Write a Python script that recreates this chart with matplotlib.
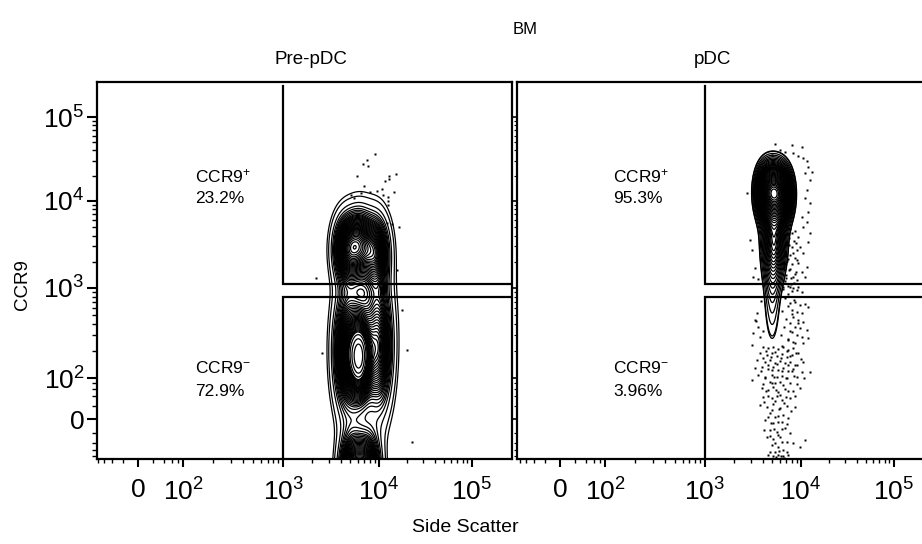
import numpy as np
import matplotlib
matplotlib.use("Agg")
import matplotlib.pyplot as plt

plt.rcParams['font.family'] = ['Liberation Sans', 'DejaVu Sans']
plt.rcParams['mathtext.fontset'] = 'custom'
plt.rcParams['mathtext.rm'] = 'Liberation Sans'
plt.rcParams['mathtext.default'] = 'regular'

# ---------------- data ----------------
SUPER_TITLE = "BM"
PANEL_TITLES = ["Pre-pDC", "pDC"]
X_LABEL = "Side Scatter"
Y_LABEL = "CCR9"
TICK_VALUES = [0, 1e2, 1e3, 1e4, 1e5]
TICK_LABELS = ["0", "$10^{2}$", "$10^{3}$", "$10^{4}$", "$10^{5}$"]
GATE_SSC = 1000
GATE_CCR9_POS = 1100
GATE_CCR9_NEG = 800
POS_LABEL = "CCR9$^{+}$"
NEG_LABEL = "CCR9$^{-}$"
POS_PCT = ["23.2%", "95.3%"]
NEG_PCT = ["72.9%", "3.96%"]

# density components (display decades): centre SSC, centre CCR9, sd SSC, sd CCR9, weight
PRE_C_SSC = [3.66, 3.80, 3.97, 3.66, 3.80, 4.00, 3.72, 3.88, 3.86]
PRE_C_CCR9 = [3.45, 3.50, 3.42, 2.25, 2.20, 2.30, 0.85, 0.85, 2.70]
PRE_SD_SSC = [0.085, 0.085, 0.085, 0.085, 0.075, 0.085, 0.085, 0.085, 0.16]
PRE_SD_CCR9 = [0.24, 0.24, 0.26, 0.42, 0.30, 0.45, 0.30, 0.30, 0.60]
PRE_W = [0.30, 0.30, 0.28, 0.50, 0.55, 0.50, 0.45, 0.45, 0.35]

PDC_C_SSC = [3.63, 3.72, 3.81, 3.72, 3.70]
PDC_C_CCR9 = [4.10, 4.12, 4.08, 3.55, 2.90]
PDC_SD_SSC = [0.07, 0.07, 0.07, 0.08, 0.065]
PDC_SD_CCR9 = [0.20, 0.20, 0.20, 0.30, 0.45]
PDC_W = [0.33, 0.33, 0.33, 0.4, 0.15]

# outlier events (display decades)
PRE_DOT_SSC = [3.958, 3.875, 3.833, 3.885, 3.771, 4.104, 4.177, 4.104, 4.063, 3.844,
               4.031, 3.979, 3.906, 3.813, 3.708, 3.740, 4.042, 4.094, 4.156, 4.094,
               4.094, 4.083, 4.135, 4.208, 3.344, 3.406, 4.292, 4.344, 4.188, 4.240]
PRE_DOT_CCR9 = [4.540, 4.471, 4.425, 4.402, 4.287, 4.287, 4.310, 4.253, 4.230, 4.172,
                4.138, 4.115, 4.103, 4.092, 4.069, 4.034, 4.069, 4.046, 4.103, 4.000,
                3.954, 3.747, 3.736, 3.701, 3.115, 2.253, 2.287, 1.230, 3.207, 2.747]

PDC_DOT_SSC_TOP = [3.729, 3.906, 4.010, 3.781, 3.833, 3.917, 3.698, 3.969, 4.021, 4.063,
                   3.646, 4.073, 4.115, 4.042, 4.094, 3.438, 4.063, 4.042, 4.094, 4.073,
                   4.010, 4.063, 4.021, 4.094, 3.969, 4.073, 3.990, 4.021, 3.958, 4.063,
                   4.010, 3.917, 4.042, 3.521, 3.500, 3.885, 3.917, 3.969, 4.010, 3.490, 3.469]
PDC_DOT_CCR9_TOP = [4.655, 4.644, 4.621, 4.586, 4.563, 4.552, 4.529, 4.517, 4.494, 4.460,
                    4.471, 4.391, 4.333, 4.322, 4.241, 4.092, 4.126, 4.034, 3.977, 3.874,
                    3.816, 3.759, 3.701, 3.632, 3.586, 3.529, 3.471, 3.402, 3.322, 3.241,
                    3.184, 3.126, 3.126, 3.230, 3.126, 3.011, 3.000, 3.011, 2.954, 3.437, 3.552]
PDC_DOT_SSC_BAND = [3.844, 3.885, 3.938, 3.823, 3.875, 3.927, 3.844, 3.906, 3.958, 3.833,
                    3.885, 3.938, 3.854, 3.906, 3.823, 3.875, 3.948, 3.844, 3.896, 3.833,
                    3.927, 3.865, 3.813, 3.906, 3.958,
                    3.86, 3.91, 3.82, 3.95, 3.88, 3.83, 3.92, 3.86, 3.97, 3.82,
                    3.89, 3.94, 3.84, 3.90, 3.81, 3.96, 3.87, 3.83, 3.93, 3.86,
                    3.80, 3.91, 3.84, 3.97, 3.82, 3.89, 3.79, 3.86, 3.94, 3.80,
                    3.57, 3.55, 3.58, 3.53, 3.60]
PDC_DOT_CCR9_BAND = [3.713, 3.678, 3.655, 3.609, 3.575, 3.540, 3.506, 3.471, 3.437, 3.414,
                     3.379, 3.345, 3.310, 3.276, 3.241, 3.207, 3.184, 3.149, 3.115, 3.080,
                     3.057, 3.023, 2.989, 2.966, 3.092,
                     3.69, 3.63, 3.58, 3.52, 3.49, 3.43, 3.40, 3.33, 3.29, 3.26,
                     3.22, 3.16, 3.11, 3.05, 3.01, 2.98, 2.93, 2.88, 2.86, 2.79,
                     2.74, 2.70, 2.64, 2.60, 2.55, 2.50, 2.46, 2.41, 2.37, 2.33,
                     3.40, 3.10, 2.85, 2.62, 2.50]
PDC_DOT_SSC_LOW = [3.886, 3.938, 3.990, 4.042, 4.077, 3.903, 3.955, 4.007, 3.920, 3.973,
                   4.025, 3.886, 3.938, 3.990, 4.059, 3.903, 3.955, 4.007, 4.077, 3.868,
                   3.920, 4.025,
                   3.538, 3.521, 3.556, 3.504, 3.573, 3.486,
                   3.608, 3.660, 3.712, 3.764, 3.816, 3.868, 3.920, 3.573, 3.643, 3.695,
                   3.747, 3.799, 3.851, 3.903, 3.973, 3.538, 3.625, 3.677, 3.729, 3.782,
                   3.834, 3.886, 3.938, 4.025, 3.521, 3.590, 3.660, 3.712, 3.764, 3.816,
                   3.868, 3.920, 4.007, 4.094, 3.556, 3.625, 3.695, 3.747, 3.799, 3.851,
                   3.955, 3.486, 3.677, 3.729, 3.782, 3.886,
                   3.590, 3.660, 3.712, 3.764, 3.834, 3.920, 3.990, 3.608, 3.695, 3.747,
                   3.799, 3.886, 3.573, 3.643, 3.712, 3.782, 3.851, 3.938, 3.677, 3.729,
                   3.816, 3.625, 3.712, 3.764, 3.851, 3.677, 3.747, 3.799, 3.886, 3.643,
                   3.712, 3.782, 3.851, 3.695, 3.764, 3.920, 3.729, 3.816, 3.660, 3.712,
                   3.764, 3.816, 3.868, 3.990, 4.042]
PDC_DOT_CCR9_LOW = [2.824, 2.843, 2.805, 2.816, 2.785, 2.747, 2.728, 2.709, 2.670, 2.632,
                    2.613, 2.594, 2.555, 2.536, 2.517, 2.498, 2.460, 2.441, 2.421, 2.402,
                    2.383, 2.364,
                    2.709, 2.632, 2.555, 2.479, 2.441, 2.345,
                    2.326, 2.306, 2.326, 2.295, 2.318, 2.287, 2.306, 2.249, 2.230, 2.249,
                    2.218, 2.241, 2.211, 2.230, 2.249, 2.172, 2.153, 2.172, 2.142, 2.165,
                    2.134, 2.153, 2.115, 2.153, 2.077, 2.096, 2.065, 2.088, 2.058, 2.077,
                    2.050, 2.065, 2.038, 2.038, 2.000, 1.981, 2.000, 1.973, 1.988, 1.962,
                    1.981, 1.942, 1.923, 1.904, 1.923, 1.904,
                    1.847, 1.828, 1.858, 1.808, 1.835, 1.820, 1.847, 1.751, 1.732, 1.759,
                    1.713, 1.732, 1.655, 1.636, 1.667, 1.617, 1.644, 1.628, 1.559, 1.521,
                    1.540, 1.483, 1.444, 1.464, 1.437, 1.368, 1.349, 1.375, 1.329, 1.291,
                    1.260, 1.283, 1.234, 1.195, 1.176, 1.215, 1.119, 1.138, 1.080, 1.069,
                    1.080, 1.069, 1.077, 1.176, 1.253]
PDC_DOT_SSC_LOW2 = [3.64, 3.73, 3.85, 3.95, 3.60, 3.69, 3.79, 3.89, 4.00, 3.66,
                    3.75, 3.86, 3.96, 3.58, 3.70, 3.80, 3.91, 3.63, 3.72, 3.84,
                    3.93, 4.03, 3.60, 3.70, 3.81, 3.96, 3.64, 3.74, 3.87, 3.66,
                    3.78, 3.84, 3.94, 3.62, 3.73, 3.82, 3.70, 3.77, 3.90, 3.66,
                    3.76, 3.86, 3.69, 3.80, 3.72, 3.83, 3.62, 3.68, 3.76, 3.73,
                    3.80, 3.68, 3.77, 3.85, 3.74, 3.79, 3.82]
PDC_DOT_CCR9_LOW2 = [2.27, 2.26, 2.28, 2.25, 2.20, 2.21, 2.19, 2.22, 2.18, 2.12,
                     2.13, 2.11, 2.12, 2.05, 2.06, 2.04, 2.05, 1.97, 1.98, 1.96,
                     1.99, 1.97, 1.90, 1.91, 1.89, 1.90, 1.82, 1.83, 1.81, 1.76,
                     1.77, 1.75, 1.76, 1.69, 1.70, 1.68, 1.60, 1.61, 1.59, 1.52,
                     1.53, 1.51, 1.45, 1.46, 1.38, 1.39, 1.37, 1.30, 1.31, 1.22,
                     1.23, 1.12, 1.13, 1.11, 1.06, 1.07, 1.05]

PDC_DOT_SSC = PDC_DOT_SSC_TOP + PDC_DOT_SSC_BAND + PDC_DOT_SSC_LOW + PDC_DOT_SSC_LOW2
PDC_DOT_CCR9 = PDC_DOT_CCR9_TOP + PDC_DOT_CCR9_BAND + PDC_DOT_CCR9_LOW + PDC_DOT_CCR9_LOW2


# ---------------- biexponential display scale ----------------
def to_disp(v):
    v = np.asarray(v, dtype=float)
    hi = np.interp(np.log10(np.maximum(v, 100.0)), [2, 3, 4, 5], [1.96, 3.0, 4.0, 4.965])
    lo = 1.49 + 0.47 * np.arcsinh(v / 30.0) / np.arcsinh(100.0 / 30.0)
    return np.where(v >= 100, hi, lo)


MINOR_VALUES = ([-80, -60, -40, -20, 20, 40, 60, 80] +
                [s * 10 ** k for k in (2, 3, 4, 5) for s in range(2, 10)])


def density(xx, yy, cx, cy, sx, sy, w):
    z = np.zeros_like(xx)
    for a, b, c, d, e in zip(cx, cy, sx, sy, w):
        z += e / (c * d) * np.exp(-0.5 * (((xx - a) / c) ** 2 + ((yy - b) / d) ** 2))
    return z


def prob_levels(z, fracs):
    zs = np.sort(z.ravel())[::-1]
    cs = np.cumsum(zs)
    cs /= cs[-1]
    lv = np.interp(fracs, cs, zs)
    return np.unique(np.sort(lv))


# ---------------- figure ----------------
W, H = 922, 544
fig = plt.figure(figsize=(W / 100, H / 100), dpi=100)

XLIM = [(1.062, 5.385), (1.042, 5.365)]
YLIM = (1.034, 5.368)
ax_left_px = [97, 517]
ax_w_px = 415
ax_top_px, ax_bot_px = 82, 459

comps = [(PRE_C_SSC, PRE_C_CCR9, PRE_SD_SSC, PRE_SD_CCR9, PRE_W),
         (PDC_C_SSC, PDC_C_CCR9, PDC_SD_SSC, PDC_SD_CCR9, PDC_W)]
dots = [(PRE_DOT_SSC, PRE_DOT_CCR9), (PDC_DOT_SSC, PDC_DOT_CCR9)]
outer_frac = [0.985, 0.93]
step = [0.025, 0.025]

for i in range(2):
    ax = fig.add_axes([ax_left_px[i] / W, 1 - ax_bot_px / H,
                       ax_w_px / W, (ax_bot_px - ax_top_px) / H])

    gx = np.linspace(XLIM[i][0] - 0.2, XLIM[i][1] + 0.2, 600)
    gy = np.linspace(YLIM[0] - 0.8, YLIM[1] + 0.2, 600)
    xx, yy = np.meshgrid(gx, gy)
    z = density(xx, yy, *comps[i])
    fr = np.arange(step[i], outer_frac[i] + 1e-9, step[i])
    fr = np.append(fr, outer_frac[i])
    ax.contour(xx, yy, z, levels=prob_levels(z, fr), colors='black', linewidths=0.9)

    ax.plot(dots[i][0], dots[i][1], linestyle='none', marker='s', ms=1.6,
            mfc='black', mec='none')

    # gates
    gxv = float(to_disp(GATE_SSC))
    gp = float(to_disp(GATE_CCR9_POS))
    gn = float(to_disp(GATE_CCR9_NEG))
    ax.plot([gxv, gxv, 6.0], [5.32, gp, gp], color='black', lw=1.6, solid_joinstyle='miter')
    ax.plot([6.0, gxv, gxv], [gn, gn, 1.05], color='black', lw=1.6, solid_joinstyle='miter')

    # ticks
    ax.set_xticks(to_disp(TICK_VALUES))
    ax.set_yticks(to_disp(TICK_VALUES))
    ax.set_xticks(to_disp(MINOR_VALUES), minor=True)
    ax.set_yticks(to_disp(MINOR_VALUES), minor=True)
    ax.set_xticklabels(TICK_LABELS, fontsize=19)
    if i == 0:
        ax.set_yticklabels(TICK_LABELS, fontsize=19)
        ax.tick_params(axis='y', which='major', length=7, width=1.5, pad=2)
        ax.tick_params(axis='y', which='minor', length=3.5, width=1)
    else:
        ax.set_yticklabels([])
        ax.tick_params(axis='y', which='major', length=3, width=1.2)
        ax.tick_params(axis='y', which='minor', length=2, width=0.8)
    ax.tick_params(axis='x', which='major', length=6, width=1.5, pad=8)
    ax.tick_params(axis='x', which='minor', length=3, width=1)
    ax.tick_params(which='both', direction='out', colors='black')
    for s in ax.spines.values():
        s.set_linewidth(1.6)

    ax.set_xlim(*XLIM[i])
    ax.set_ylim(*YLIM)

    tx = 0.236 if i == 0 else 0.231
    ax.text(tx, 0.751, POS_LABEL, transform=ax.transAxes, fontsize=12.5, va='center', ha='left')
    ax.text(tx, 0.690, POS_PCT[i], transform=ax.transAxes, fontsize=12.5, va='center', ha='left')
    ax.text(tx, 0.241, NEG_LABEL, transform=ax.transAxes, fontsize=12.5, va='center', ha='left')
    ax.text(tx, 0.178, NEG_PCT[i], transform=ax.transAxes, fontsize=12.5, va='center', ha='left')

    fig.text((ax_left_px[i] + [214, 195][i]) / W, 1 - 60 / H, PANEL_TITLES[i],
             fontsize=13.5, ha='center', va='center')

fig.text(525 / W, 1 - 30 / H, SUPER_TITLE, fontsize=12, ha='center', va='center')
fig.text(465 / W, 1 - 527 / H, X_LABEL, fontsize=14, ha='center', va='center')
fig.text(22 / W, 1 - 285 / H, Y_LABEL, fontsize=13.5, ha='center', va='center', rotation=90)

fig.savefig("out.png", dpi=100)
